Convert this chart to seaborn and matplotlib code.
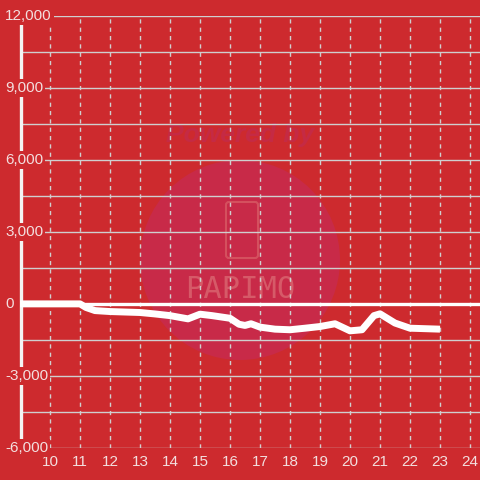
import pandas as pd
import seaborn as sns
import matplotlib.pyplot as plt
from matplotlib.patches import Circle, FancyBboxPatch

# balance over the day (hour -> value)
hours = [9.0, 10, 11, 11.2, 11.5, 12, 13, 13.5, 14, 14.6, 15.0, 15.4, 16, 16.3, 16.5, 16.7,
         17, 17.5, 18, 18.5, 19, 19.5, 20, 20.4, 20.8, 21, 21.5, 22, 23]
values = [0, 0, 0, -150, -280, -320, -360, -420, -490, -625, -430, -490, -600, -850, -900, -830,
          -970, -1055, -1080, -1015, -945, -830, -1125, -1080, -490, -415, -800, -1015, -1055]

x_ticks = list(range(10, 25))
y_ticks = [-6000, -3000, 0, 3000, 6000, 9000, 12000]
y_minor = [-4500, -1500, 1500, 4500, 7500, 10500]

bg = "#cd2a2e"
grid_col = "#cfcfcf"
text_col = "#f3dede"

sns.set_style("white")
plt.rcParams['font.family'] = ['Liberation Sans', 'DejaVu Sans']

fig = plt.figure(figsize=(4.8, 4.8), dpi=100, facecolor=bg)
ax = fig.add_axes([21/480, 32/480, 459/480, 432/480])
ax.set_facecolor("none")

# watermark behind the chart
fig.patches.append(Circle((240/480, 220/480), 100/480, transform=fig.transFigure,
                          facecolor="#c82a48", edgecolor="none", zorder=-2))
fig.patches.append(FancyBboxPatch((226/480, 222/480), 32/480, 56/480,
                                  boxstyle="round,pad=0,rounding_size=0.006",
                                  transform=fig.transFigure, facecolor="none",
                                  edgecolor="#d4505e", linewidth=1.5, zorder=-1))
fig.text(240/480, 345/480, "Powered by", ha="center", va="center", fontsize=19,
         fontweight="bold", style="italic", color="#c52a44", zorder=-1)
fig.text(240/480, 190/480, "PAPIMO", ha="center", va="center", fontsize=22,
         color="#d65a68", zorder=-1, family=["DejaVu Sans Mono", "DejaVu Sans"])

df = pd.DataFrame({"hour": hours, "value": values})
sns.lineplot(data=df, x="hour", y="value", ax=ax, color="white", linewidth=5,
             solid_joinstyle="round", solid_capstyle="butt", zorder=4, clip_on=False)
ax.axhline(0, color="white", linewidth=2.4, zorder=3)

ax.set_xlim(9.033, 24.333)
ax.set_ylim(-6015, 12015)
ax.set_xticks(x_ticks)
ax.set_yticks(y_ticks)
ax.set_yticks(y_minor, minor=True)
ax.grid(axis="y", which="both", color=grid_col, linewidth=1, linestyle="-")
ax.grid(axis="x", which="major", color=grid_col, linewidth=1, linestyle=(0, (3, 3)))
ax.set_axisbelow(True)

for s in ["top", "right", "bottom"]:
    ax.spines[s].set_visible(False)
ax.spines["left"].set_color("#f4f4f4")
ax.spines["left"].set_linewidth(2.4)

ax.tick_params(axis="x", length=0, pad=5, labelsize=11, labelcolor=text_col)
ax.tick_params(axis="y", which="both", length=0, labelleft=False)
ax.set_xlabel("")
ax.set_ylabel("")

ytr = ax.get_yaxis_transform()
for v in y_ticks:
    ax.text(-16/459, v, f"{v:,}", transform=ytr, ha="left", va="center", fontsize=11,
            color=text_col, zorder=10, clip_on=False,
            bbox=dict(facecolor=bg, edgecolor="none", pad=1.5))

fig.savefig("out.png", dpi=100, facecolor=bg)
